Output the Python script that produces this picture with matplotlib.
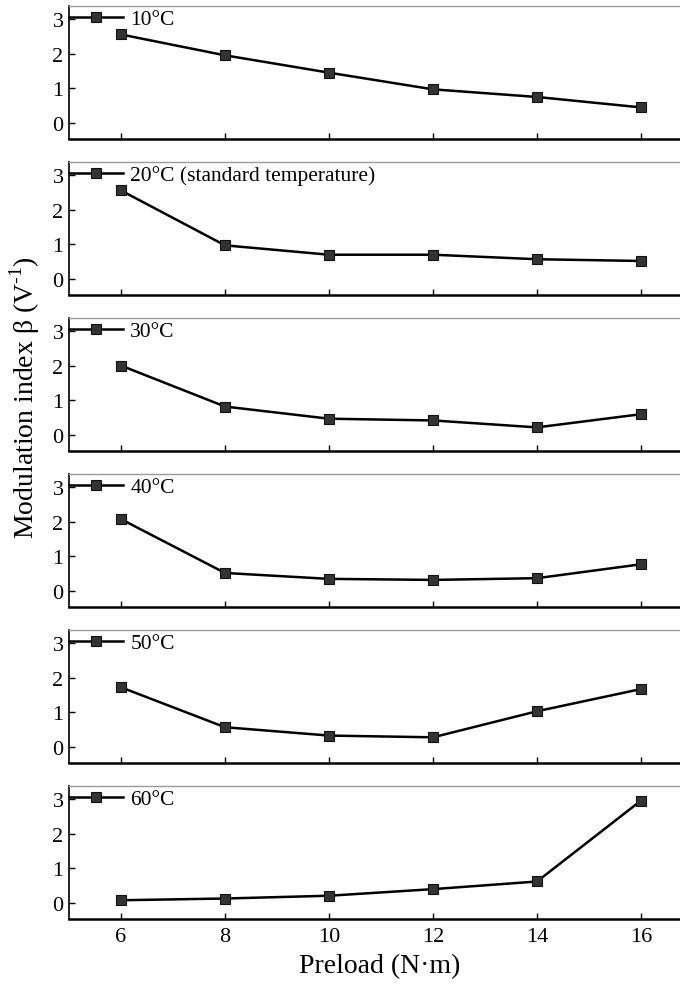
import matplotlib

matplotlib.use("Agg")
import matplotlib.pyplot as plt

preload = [6, 8, 10, 12, 14, 16]
labels = ["10°C", "20°C (standard temperature)", "30°C", "40°C", "50°C", "60°C"]
beta_10 = [2.55, 1.95, 1.45, 0.97, 0.75, 0.45]
beta_20 = [2.55, 0.97, 0.70, 0.70, 0.57, 0.52]
beta_30 = [2.00, 0.82, 0.47, 0.42, 0.22, 0.60]
beta_40 = [2.07, 0.52, 0.35, 0.32, 0.37, 0.77]
beta_50 = [1.72, 0.57, 0.33, 0.28, 1.03, 1.67]
beta_60 = [0.08, 0.13, 0.21, 0.40, 0.62, 2.95]
series = [beta_10, beta_20, beta_30, beta_40, beta_50, beta_60]

plt.rcParams["font.family"] = ["Liberation Serif", "DejaVu Serif"]
plt.rcParams["mathtext.fontset"] = "custom"
plt.rcParams["mathtext.rm"] = "Liberation Serif"

W, H = 680, 987
fig = plt.figure(figsize=(W / 100, H / 100), dpi=100)

left, top0, ph, step = 69, 7, 133, 156
for i, (lab, ys) in enumerate(zip(labels, series)):
    top = top0 + i * step
    ax = fig.add_axes([left / W, 1 - (top + ph) / H, 1 - left / W, ph / H])
    ax.plot(preload, ys, color="black", lw=1.8, marker="s", ms=7.5,
            mfc="#333333", mec="#111111", mew=0.8, label=lab)
    ax.set_xlim(5, 16.75)
    ax.set_ylim(-0.46, 3.37)
    ax.set_xticks(preload)
    ax.set_yticks([0, 1, 2, 3])
    ax.tick_params(direction="in", labelsize=16, length=4, width=1)
    ax.tick_params(axis="x", pad=6, labelbottom=(i == len(series) - 1))
    ax.tick_params(axis="y", pad=4)
    ax.spines["top"].set_color("#999999")
    ax.spines["top"].set_linewidth(1)
    ax.spines["right"].set_visible(False)
    ax.spines["left"].set_linewidth(1.2)
    ax.spines["bottom"].set_linewidth(1.8)
    ax.legend(loc="upper left", bbox_to_anchor=(0, 0.975), borderaxespad=0,
              borderpad=0, frameon=False, fontsize=15.5, handlelength=2.5,
              handletextpad=0.35)

fig.text(25 / W, 1 - 398 / H, r"Modulation index β (V$^{\text{-1}}$)",
         rotation=90, fontsize=20, ha="center", va="center")
fig.text(380 / W, 1 - 967 / H, "Preload (N·m)",
         fontsize=20, ha="center", va="center")

fig.savefig("out.png", dpi=100)
